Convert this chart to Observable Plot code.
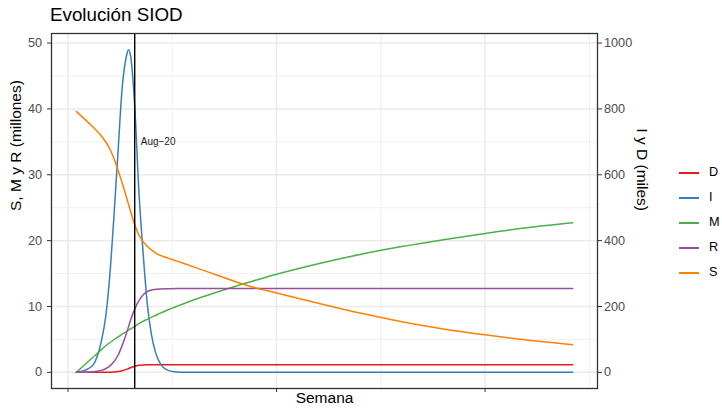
<!DOCTYPE html>
<html><head><meta charset="utf-8">
<script src="https://cdn.jsdelivr.net/npm/d3@7"></script>
<script src="https://cdn.jsdelivr.net/npm/@observablehq/plot@0.6"></script>
<style>
body{margin:0;background:#fff;font-family:"Liberation Sans",Arial,sans-serif;}
#wrap{position:relative;width:722px;height:410px;overflow:hidden;}
#title{height:27px;position:relative;}
#title span{position:absolute;left:50px;top:6px;font-size:18.8px;line-height:1;color:#000;white-space:nowrap;}
#chart svg{display:block;}
#legend{position:absolute;left:679px;top:160px;}
.row{display:flex;align-items:center;height:25px;}
.sw{display:block;width:20px;height:2px;margin-right:10px;}
.lab{font-size:12.7px;color:#000;line-height:1;}
</style></head><body>
<div id="wrap"><div id="title"><span>Evolución SIOD</span></div><div id="chart"></div><div id="legend"></div></div>
<script>
// --- data (week number) ---
const weeks = [1, 2, 3, 3.5, 4, 4.5, 5, 5.5, 6, 6.5, 7, 7.25, 7.5, 8, 8.5, 9, 9.5, 10, 10.5, 11, 12, 13, 14, 16, 18, 20, 22, 25, 30, 35, 40, 45, 50, 55, 60.5];
// millones
const S = [39.6, 38.45, 37.25, 36.6, 35.9, 35.05, 33.95, 32.5, 30.7, 28.75, 26.65, 25.55, 24.45, 22.45, 20.85, 19.85, 19.15, 18.6, 18.15, 17.8, 17.35, 16.93, 16.5, 15.6, 14.7, 13.8, 13.0, 12.05, 10.5, 9.0, 7.7, 6.6, 5.7, 4.9, 4.2];
const M = [0, 1.15, 2.3, 2.85, 3.45, 4.0, 4.5, 4.95, 5.4, 5.8, 6.2, 6.4, 6.6, 7.0, 7.4, 7.75, 8.05, 8.35, 8.65, 8.95, 9.5, 10.0, 10.5, 11.4, 12.25, 13.05, 13.8, 14.9, 16.5, 17.9, 19.1, 20.15, 21.1, 21.95, 22.7];
const R = [0, 0.02, 0.1, 0.18, 0.3, 0.55, 0.95, 1.6, 2.6, 4.1, 5.9, 6.9, 7.9, 9.6, 10.9, 11.75, 12.25, 12.5, 12.61, 12.67, 12.7, 12.72, 12.72, 12.72, 12.72, 12.72, 12.72, 12.72, 12.72, 12.72, 12.72, 12.72, 12.72, 12.72, 12.72];
// miles
const I = [1, 6, 22, 48, 95, 165, 290, 470, 670, 865, 960, 980, 962, 810, 550, 365, 210, 115, 60, 30, 6, 1, 0, 0, 0, 0, 0, 0, 0, 0, 0, 0, 0, 0, 0];
const D = [0, 0, 0.05, 0.1, 0.2, 0.3, 0.5, 1.2, 2.5, 5, 9, 11.5, 14, 18.5, 21.3, 22.6, 23.1, 23.3, 23.35, 23.4, 23.4, 23.4, 23.4, 23.4, 23.4, 23.4, 23.4, 23.4, 23.4, 23.4, 23.4, 23.4, 23.4, 23.4, 23.4];

const seriesNames = ["D", "I", "M", "R", "S"];
const seriesColors = ["#E41A1C", "#377EB8", "#4DAF4A", "#984EA3", "#FF7F00"];
const milesPerMillonesUnit = 20; // right axis (miles) vs left axis (millones)
const yTicks = [0, 10, 20, 30, 40, 50];
const yTicksRight = [0, 200, 400, 600, 800, 1000];
const yMinor = [5, 15, 25, 35, 45];
const xTicks = [0, 25, 50];
const xMinor = [12.5, 37.5, 62.5];
const eventWeeks = [8];
const eventLabels = ["Aug−20"];
const eventLabelY = [35];
const titleLeft = "S, M y R (millones)";
const titleRight = "I y D (miles)";
const titleX = "Semana";

// --- build table ---
const seriesData = {D: D.map(v => v / milesPerMillonesUnit), I: I.map(v => v / milesPerMillonesUnit), M, R, S};
const rows = [];
for (const s of seriesNames) seriesData[s].forEach((v, i) => rows.push({week: weeks[i], value: v, serie: s}));
const events = eventWeeks.map((w, i) => ({week: w, y: eventLabelY[i], label: eventLabels[i]}));

const grid = {stroke: "#ebebeb", strokeOpacity: 1};
const plot = Plot.plot({
  width: 722, height: 383,
  marginLeft: 51, marginRight: 125, marginTop: 6, marginBottom: 22,
  style: {fontFamily: "'Liberation Sans', Arial, sans-serif", background: "#fff"},
  x: {domain: [-1.975, 63.475]},
  y: {domain: [-2.45, 51.45]},
  color: {domain: seriesNames, range: seriesColors},
  marks: [
    Plot.gridX(xMinor, {...grid, strokeWidth: 0.75}),
    Plot.gridY(yMinor, {...grid, strokeWidth: 0.75}),
    Plot.gridX(xTicks, {...grid, strokeWidth: 1.5}),
    Plot.gridY(yTicks, {...grid, strokeWidth: 1.5}),
    Plot.line(rows, {x: "week", y: "value", z: "serie", stroke: "serie", strokeWidth: 1.5, curve: "monotone-x"}),
    Plot.ruleX(events, {x: "week", stroke: "#000", strokeWidth: 1.4}),
    Plot.text(events, {x: "week", y: "y", text: "label", textAnchor: "start", dx: 6, fontSize: 10, fill: "#1a1a1a"}),
    Plot.frame({stroke: "#333", strokeWidth: 1.3}),
    Plot.axisY(yTicks, {anchor: "left", tickSize: 4, tickPadding: 5.5, fontSize: 12.7, stroke: "#333", fill: "#4d4d4d", label: null}),
    Plot.axisY(yTicks, {anchor: "right", tickSize: 4, tickPadding: 2.5, fontSize: 12.7, stroke: "#333", fill: "#4d4d4d", label: null,
      tickFormat: d => String(yTicksRight[yTicks.indexOf(d)])}),
    Plot.axisX(xTicks, {anchor: "bottom", tickSize: 4, stroke: "#333", tickFormat: () => "", label: null}),
    Plot.text([titleLeft], {frameAnchor: "left", dx: -35.2, rotate: -90, fontSize: 15.5, fill: "#000"}),
    Plot.text([titleRight], {frameAnchor: "right", dx: 44.5, rotate: 90, fontSize: 15.5, fill: "#000"}),
    Plot.text([titleX], {frameAnchor: "bottom", dy: 14, fontSize: 15.5, fill: "#000"})
  ]
});
document.getElementById("chart").appendChild(plot);

// --- legend ---
const legend = document.getElementById("legend");
seriesNames.forEach((s, i) => {
  const row = document.createElement("div");
  row.className = "row";
  const sw = document.createElement("span");
  sw.className = "sw";
  sw.style.background = seriesColors[i];
  const lab = document.createElement("span");
  lab.className = "lab";
  lab.textContent = s;
  row.appendChild(sw); row.appendChild(lab);
  legend.appendChild(row);
});
</script>
</body></html>
